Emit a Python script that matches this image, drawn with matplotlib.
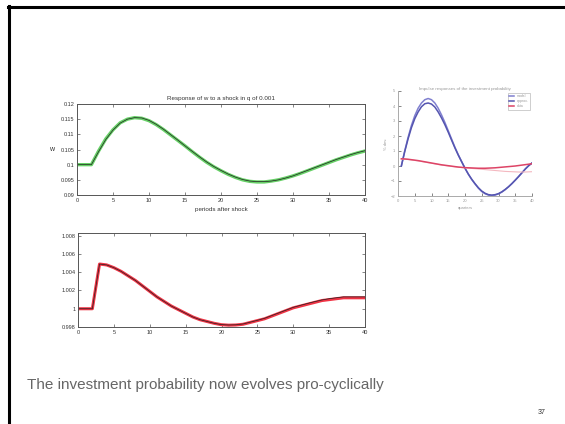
import matplotlib
matplotlib.use("Agg")
import matplotlib.pyplot as plt
from matplotlib.lines import Line2D

plt.rcParams['font.family'] = ['Liberation Sans', 'DejaVu Sans']

# ---- data -------------------------------------------------------------
periods = list(range(0, 41))

wage_model = [0.1, 0.1, 0.1, 0.1045, 0.1085, 0.1115, 0.1138, 0.1150, 0.1155,
              0.1153, 0.1145, 0.1132, 0.1116, 0.1098, 0.1080, 0.1062, 0.1043,
              0.1025, 0.1008, 0.0993, 0.0980, 0.0968, 0.0958, 0.0950, 0.0945,
              0.0943, 0.0943, 0.0946, 0.0950, 0.0956, 0.0963, 0.0971, 0.0980,
              0.0989, 0.0998, 0.1007, 0.1016, 0.1024, 0.1032, 0.1039, 0.1045]
wage_approx = [0.1, 0.1, 0.1, 0.1043, 0.1083, 0.1114, 0.1137, 0.1150, 0.1155,
               0.1154, 0.1146, 0.1133, 0.1117, 0.1099, 0.1081, 0.1062, 0.1044,
               0.1026, 0.1009, 0.0994, 0.0981, 0.0969, 0.0959, 0.0951, 0.0946,
               0.0944, 0.0944, 0.0946, 0.0950, 0.0956, 0.0963, 0.0972, 0.0981,
               0.0990, 0.0999, 0.1008, 0.1017, 0.1025, 0.1033, 0.1040, 0.1046]

prob_model = [1.0, 1.0, 1.0, 1.0049, 1.0048, 1.0045, 1.0041, 1.0036, 1.0031,
              1.0025, 1.0019, 1.0013, 1.0008, 1.0003, 0.9999, 0.9995, 0.9991,
              0.9988, 0.9986, 0.9984, 0.99825, 0.9982, 0.99822, 0.9983, 0.9985,
              0.9987, 0.9989, 0.9992, 0.9995, 0.9998, 1.0001, 1.0003, 1.0005,
              1.0007, 1.0009, 1.0010, 1.0011, 1.0012, 1.0012, 1.0012, 1.0012]
prob_approx = [1.0, 1.0, 1.0, 1.0049, 1.0048, 1.0045, 1.0041, 1.0036, 1.0031,
               1.0025, 1.0019, 1.0013, 1.0008, 1.0003, 0.9999, 0.9995, 0.9991,
               0.9988, 0.9986, 0.9984, 0.99826, 0.99822, 0.99824, 0.99833, 0.99853,
               0.99873, 0.99895, 0.99925, 0.99955, 0.99985, 1.00015, 1.00037, 1.00058,
               1.00078, 1.00096, 1.0011, 1.0012, 1.0013, 1.0013, 1.0013, 1.0013]

irf_periods = list(range(1, 41))
irf_blue_a = [0.0, 1.0, 1.9, 2.7, 3.35, 3.85, 4.2, 4.42, 4.5, 4.42, 4.2, 3.85,
              3.4, 2.9, 2.35, 1.8, 1.25, 0.75, 0.3, -0.15, -0.55, -0.9, -1.2,
              -1.48, -1.7, -1.85, -1.94, -1.97, -1.94, -1.86, -1.74, -1.58,
              -1.39, -1.18, -0.95, -0.71, -0.46, -0.2, 0.02, 0.2]
irf_blue_b = [0.0, 0.95, 1.8, 2.55, 3.15, 3.6, 3.95, 4.15, 4.2, 4.13, 3.93, 3.6,
              3.2, 2.75, 2.25, 1.72, 1.2, 0.72, 0.28, -0.15, -0.54, -0.88, -1.18,
              -1.45, -1.67, -1.82, -1.91, -1.94, -1.91, -1.84, -1.72, -1.56,
              -1.38, -1.17, -0.94, -0.7, -0.45, -0.2, 0.02, 0.2]
irf_red_a = [0.48, 0.47, 0.45, 0.42, 0.39, 0.36, 0.32, 0.28, 0.24, 0.2, 0.16,
             0.12, 0.08, 0.05, 0.02, -0.01, -0.04, -0.07, -0.09, -0.11, -0.12,
             -0.13, -0.14, -0.15, -0.15, -0.15, -0.14, -0.13, -0.12, -0.1,
             -0.08, -0.06, -0.04, -0.02, 0.0, 0.03, 0.06, 0.09, 0.12, 0.15]
irf_red_b = [0.46, 0.45, 0.43, 0.4, 0.37, 0.34, 0.3, 0.26, 0.22, 0.18, 0.14,
             0.1, 0.06, 0.03, 0.0, -0.03, -0.06, -0.08, -0.1, -0.12, -0.14,
             -0.16, -0.18, -0.2, -0.22, -0.24, -0.26, -0.28, -0.3, -0.32,
             -0.34, -0.36, -0.37, -0.38, -0.39, -0.4, -0.4, -0.4, -0.39, -0.38]

x_ticks = [0, 5, 10, 15, 20, 25, 30, 35, 40]
w_ticks = [0.09, 0.095, 0.1, 0.105, 0.11, 0.115, 0.12]
w_tick_labels = ['0.09', '0.095', '0.1', '0.105', '0.11', '0.115', '0.12']
p_ticks = [0.998, 1.0, 1.002, 1.004, 1.006, 1.008]
p_tick_labels = ['0.998', '1', '1.002', '1.004', '1.006', '1.008']
irf_ticks = [-2, -1, 0, 1, 2, 3, 4, 5]

# ---- figure -----------------------------------------------------------
W, H = 565, 424
fig = plt.figure(figsize=(W / 100, H / 100), dpi=100)
fig.patch.set_facecolor('white')


def px_axes(left, top, right, bottom):
    return fig.add_axes([left / W, 1 - bottom / H, (right - left) / W, (bottom - top) / H])


def matlab_style(ax):
    for s in ax.spines.values():
        s.set_color('#555555')
        s.set_linewidth(0.7)
    ax.tick_params(direction='in', length=2, width=0.5, colors='#555555',
                   labelsize=4, labelcolor='#333333', pad=2,
                   top=True, right=True)


# slide frame (top and left edges)
fig.add_artist(Line2D([8 / W, 1], [1 - 6.5 / H, 1 - 6.5 / H], color='black', lw=2.2))
fig.add_artist(Line2D([8.5 / W, 8.5 / W], [0, 1 - 5.5 / H], color='black', lw=2.2))

# upper left panel: wage response
ax1 = px_axes(77, 104, 365, 195)
ax1.plot(periods, wage_model, color='#66d066', lw=2.4)
ax1.plot(periods, wage_approx, color='#222222', lw=0.5)
ax1.set_xlim(0, 40)
ax1.set_ylim(0.09, 0.12)
ax1.set_xticks(x_ticks)
ax1.set_yticks(w_ticks)
ax1.set_yticklabels(w_tick_labels)
matlab_style(ax1)
ax1.set_title('Response of w to a shock in q of 0.001', fontsize=4.5,
              color='#333333', pad=3)
ax1.set_xlabel('periods after shock', fontsize=4.5, color='#333333', labelpad=3)
ax1.set_ylabel('w', fontsize=5, color='#333333', rotation=0, labelpad=6, va='center')

# lower left panel: investment probability
ax2 = px_axes(78, 233, 365, 327)
ax2.plot(periods, prob_model, color='#f03344', lw=2.2)
ax2.plot(periods, prob_approx, color='#222222', lw=0.5)
ax2.set_xlim(0, 40)
ax2.set_ylim(0.998, 1.0083)
ax2.set_xticks(x_ticks)
ax2.set_yticks(p_ticks)
ax2.set_yticklabels(p_tick_labels)
matlab_style(ax2)

# right panel: impulse responses
ax3 = px_axes(398, 91, 532, 196)
ax3.plot(irf_periods, irf_blue_a, color='#8080d0', lw=1.1, label='model')
ax3.plot(irf_periods, irf_blue_b, color='#5555b0', lw=1.1, label='approx.')
ax3.plot(irf_periods, irf_red_b, color='#f4b8c0', lw=0.8)
ax3.plot(irf_periods, irf_red_a, color='#dd4466', lw=1.1, label='data')
ax3.set_xlim(0, 40)
ax3.set_ylim(-2, 5)
ax3.set_xticks(x_ticks)
ax3.set_yticks(irf_ticks)
matlab_style(ax3)
ax3.tick_params(labelsize=3, labelcolor='#999999', top=False, right=False)
for s in ('top', 'right'):
    ax3.spines[s].set_visible(False)
for s in ('left', 'bottom'):
    ax3.spines[s].set_color('#aaaaaa')
ax3.set_title('Impulse responses of the investment probability', fontsize=3.2,
              color='#999999', pad=1)
ax3.set_xlabel('quarters', fontsize=3, color='#999999', labelpad=2)
ax3.set_ylabel('% dev.', fontsize=3, color='#999999', labelpad=2)
leg = ax3.legend(loc='upper right', fontsize=2.5, frameon=True, handlelength=1.5,
                 borderpad=0.4, labelspacing=0.3)
leg.get_frame().set_edgecolor('#aaaaaa')
leg.get_frame().set_linewidth(0.5)
for t in leg.get_texts():
    t.set_color('#999999')

# slide text
fig.text(27 / W, 1 - 385 / H, 'The investment probability now evolves pro-cyclically',
         fontsize=11, color='#666666', va='center', ha='left')
fig.text(542 / W, 1 - 412 / H, '37', fontsize=5, color='#333333', va='center', ha='center')

fig.savefig('out.png', dpi=100, facecolor='white')
